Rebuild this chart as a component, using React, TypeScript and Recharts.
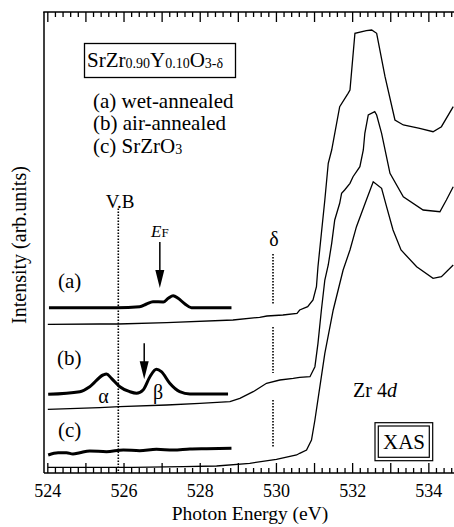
import { ComposedChart, Line, XAxis, YAxis, ReferenceLine, ReferenceDot } from 'recharts';

// Zr 4d XAS, thin lines = full spectra, thick lines = magnified pre-edge
const energyA = [524.0, 525.36, 525.84, 527.12, 528.86, 529.56, 529.75, 530.17, 530.54, 530.61, 530.82, 530.96, 531.05, 531.09, 531.18, 531.27, 531.36, 531.45, 531.66, 531.88, 531.93, 532.06, 532.36, 532.5, 532.63, 532.85, 533.11, 533.33, 533.76, 534.11, 534.33, 534.64];
const intensityA = [148.7, 149, 149, 150.3, 153, 155.7, 157, 158, 159.7, 163, 166.3, 173, 186.3, 206.3, 239.7, 273, 309.7, 323, 366.3, 379.7, 383, 439.7, 442.3, 443, 439.7, 396.3, 353, 348, 344.7, 341.3, 346.3, 366.3];

const energyB = [524.0, 525.36, 525.89, 527.12, 527.99, 528.78, 529.04, 529.39, 529.74, 530.09, 530.44, 530.61, 530.88, 531.01, 531.09, 531.18, 531.27, 531.36, 531.45, 531.53, 531.66, 531.71, 531.79, 531.93, 532.01, 532.19, 532.28, 532.32, 532.41, 532.58, 532.63, 532.76, 532.98, 533.33, 533.85, 534.29, 534.46, 534.64];
const intensityB = [63.7, 65.3, 66.3, 68, 69.7, 71.3, 74.7, 81.3, 89.7, 93, 94.7, 95.7, 96.3, 106.3, 129.7, 163, 193, 208, 229.7, 253, 269.7, 279.7, 283, 289.7, 296.3, 306.3, 323, 339.7, 358, 361.3, 358, 339.7, 299.7, 276.3, 263, 261.3, 273, 286.3];

const energyC = [524.0, 526.23, 527.55, 528.43, 529.3, 530.0, 530.53, 530.61, 530.79, 530.92, 531.01, 531.14, 531.27, 531.49, 531.75, 531.93, 532.1, 532.36, 532.54, 532.76, 532.89, 533.06, 533.27, 533.68, 534.11, 534.33, 534.64];
const intensityC = [5.7, 5.7, 6.3, 7, 9.7, 13.7, 18, 19.7, 23, 33, 53, 86.3, 119.7, 163, 203, 223, 246.3, 273, 291.3, 284.7, 266.3, 243, 223, 206.3, 194.7, 196.3, 208];

// magnified pre-edge region
const zoomEnergyA = [524.03, 525.81, 526.41, 526.59, 526.76, 527.03, 527.16, 527.29, 527.42, 527.6, 527.77, 528.82];
const zoomIntensityA = [165.3, 165.3, 166.3, 169, 171.3, 171, 174.7, 177.3, 174.7, 169, 165.3, 165.3];

const zoomEnergyB = [524.01, 524.84, 525.1, 525.45, 525.54, 525.67, 525.89, 526.15, 526.33, 526.5, 526.68, 526.85, 526.98, 527.2, 527.46, 527.73, 528.73];
const zoomIntensityB = [78.7, 81.3, 86.3, 98, 99, 94.7, 86.3, 81.3, 79.7, 83, 96.3, 103.7, 101.3, 89.7, 81.3, 79, 79];

const zoomEnergyC = [524.01, 524.27, 524.49, 524.66, 524.84, 525.1, 525.54, 525.98, 526.41, 526.85, 527.29, 527.73, 528.17, 528.82];
const zoomIntensityC = [18, 20.3, 20.3, 19, 20.3, 22, 21.3, 23, 22.3, 23.7, 23, 24, 24.3, 24.7];

const labelTicks = [524, 526, 528, 530, 532, 534];
const VB_ENERGY = 525.85;
const DELTA_ENERGY = 529.91;
const EF_ENERGY = 526.94;
const ARROW_B_ENERGY = 526.53;

const toRows = (xs: number[], ys: number[]) => xs.map((x, i) => ({ x, y: ys[i] }));

const minorTicks: number[] = [];
for (let i = 0; i <= 53; i++) minorTicks.push(Math.round((524 + i * 0.2) * 10) / 10);

const FONT = '"Liberation Serif", "Times New Roman", serif';
const X_DOMAIN: [number, number] = [523.9, 534.66];

// plot box in page pixels (matches chart margins below)
const PLOT_LEFT = 44;
const PLOT_RIGHT = 454;
const PLOT_TOP = 12;
const PLOT_BOTTOM = 473;
const xPx = (e: number) => PLOT_LEFT + ((e - X_DOMAIN[0]) * (PLOT_RIGHT - PLOT_LEFT)) / (X_DOMAIN[1] - X_DOMAIN[0]);

function isMajor(v: number) {
    return Math.abs(v - Math.round(v)) < 1e-6;
}

function BottomLabel(props: any) {
    const { x, y, payload } = props;
    const v = payload.value;
    if (!labelTicks.includes(v)) return <g />;
    return (
        <text x={x} y={y + 24} textAnchor="middle" fontSize={18} fill="#000" style={{ fontFamily: FONT }}>
            {v}
        </text>
    );
}

function arrowShape(length: number) {
    return (p: any) => {
        const { cx, cy } = p;
        return (
            <g>
                <line x1={cx} x2={cx} y1={cy - length} y2={cy - 14} stroke="#000" strokeWidth={1.5} />
                <polygon points={`${cx - 4.5},${cy - 18} ${cx + 4.5},${cy - 18} ${cx},${cy}`} fill="#000" />
            </g>
        );
    };
}

export default function App() {
    const thin = { stroke: '#000', strokeWidth: 1.3, dot: false, isAnimationActive: false, type: 'linear' as const };
    const thick = { stroke: '#000', strokeWidth: 3, dot: false, isAnimationActive: false, type: 'monotone' as const };
    const dotted = { stroke: '#000', strokeWidth: 1.6, strokeDasharray: '1.5 1.5' };
    const txt = { fill: '#000', style: { fontFamily: FONT } };

    return (
        <div style={{ position: 'absolute', left: 0, top: 0, width: 454, height: 527, background: '#fff' }}>
            <ComposedChart width={454} height={527} margin={{ top: PLOT_TOP, right: 0, left: 0, bottom: 0 }}>
                <XAxis
                    dataKey="x"
                    type="number"
                    domain={X_DOMAIN}
                    allowDataOverflow
                    ticks={labelTicks}
                    interval={0}
                    tick={(p: any) => <BottomLabel {...p} />}
                    tickLine={false}
                    tickSize={0}
                    tickMargin={0}
                    height={527 - PLOT_BOTTOM}
                    axisLine={{ stroke: '#000', strokeWidth: 1.5 }}
                />
                <YAxis
                    type="number"
                    domain={[0, PLOT_BOTTOM - PLOT_TOP]}
                    allowDataOverflow
                    tick={false}
                    tickLine={false}
                    width={PLOT_LEFT}
                    axisLine={{ stroke: '#000', strokeWidth: 1.5 }}
                />

                <ReferenceLine segment={[{ x: VB_ENERGY, y: 264.5 }, { x: VB_ENERGY, y: 0 }]} {...dotted} />
                <ReferenceLine segment={[{ x: DELTA_ENERGY, y: 219 }, { x: DELTA_ENERGY, y: 169 }]} {...dotted} />
                <ReferenceLine segment={[{ x: DELTA_ENERGY, y: 146 }, { x: DELTA_ENERGY, y: 100 }]} {...dotted} />
                <ReferenceLine segment={[{ x: DELTA_ENERGY, y: 73 }, { x: DELTA_ENERGY, y: 26 }]} {...dotted} />

                <Line data={toRows(energyA, intensityA)} dataKey="y" {...thin} />
                <Line data={toRows(energyB, intensityB)} dataKey="y" {...thin} />
                <Line data={toRows(energyC, intensityC)} dataKey="y" {...thin} />
                <Line data={toRows(zoomEnergyA, zoomIntensityA)} dataKey="y" {...thick} />
                <Line data={toRows(zoomEnergyB, zoomIntensityB)} dataKey="y" {...thick} />
                <Line data={toRows(zoomEnergyC, zoomIntensityC)} dataKey="y" {...thick} />

                <ReferenceDot x={EF_ENERGY} y={185} r={0} shape={arrowShape(46)} />
                <ReferenceDot x={ARROW_B_ENERGY} y={93.7} r={0} shape={arrowShape(36)} />
            </ComposedChart>

            <svg width={454} height={527} style={{ position: 'absolute', left: 0, top: 0, pointerEvents: 'none' }}>
                {/* top frame edge and inward ticks */}
                <rect x={PLOT_LEFT - 0.75} y={PLOT_TOP - 0.75} width={PLOT_RIGHT - PLOT_LEFT + 1} height={1.5} fill="#000" />
                {minorTicks.map((t) => {
                    const len = isMajor(t) ? 10 : 5;
                    const x = xPx(t) - 0.65;
                    return (
                        <g key={t}>
                            <rect x={x} y={PLOT_TOP} width={1.3} height={len} fill="#000" />
                            <rect x={x} y={PLOT_BOTTOM - len} width={1.3} height={len} fill="#000" />
                        </g>
                    );
                })}

                <rect x={84.5} y={43.5} width={151} height={34} fill="none" stroke="#000" strokeWidth={1.3} />
                <text x={87} y={67} fontSize={21} {...txt}>
                    SrZr<tspan fontSize={14} dy={1}>0.90</tspan>
                    <tspan dy={-1}>Y</tspan>
                    <tspan fontSize={14} dy={1}>0.10</tspan>
                    <tspan dy={-1}>O</tspan>
                    <tspan fontSize={14} dy={1}>3-δ</tspan>
                </text>

                <text x={93} y={108} fontSize={21} {...txt}>(a) wet-annealed</text>
                <text x={93} y={130} fontSize={21} {...txt}>(b) air-annealed</text>
                <text x={93} y={152.5} fontSize={21} {...txt}>
                    (c) SrZrO<tspan fontSize={14} dy={1}>3</tspan>
                </text>

                <text x={120} y={208} fontSize={19} textAnchor="middle" {...txt}>V.B</text>
                <text x={151} y={237} fontSize={17} fontStyle="italic" {...txt}>
                    E<tspan fontSize={13} fontStyle="normal">F</tspan>
                </text>
                <text x={274} y={246} fontSize={20} textAnchor="middle" {...txt}>δ</text>

                <text x={58} y={288} fontSize={21} {...txt}>(a)</text>
                <text x={57} y={365} fontSize={21} {...txt}>(b)</text>
                <text x={58} y={437} fontSize={21} {...txt}>(c)</text>
                <text x={103.5} y={403} fontSize={20} textAnchor="middle" {...txt}>α</text>
                <text x={158} y={399} fontSize={20} textAnchor="middle" {...txt}>β</text>

                <text x={353} y={397} fontSize={20} {...txt}>
                    Zr 4<tspan fontStyle="italic">d</tspan>
                </text>

                <rect x={375} y={422.7} width={57.7} height={38} fill="none" stroke="#000" strokeWidth={1.2} />
                <rect x={378.3} y={426} width={51} height={31.3} fill="none" stroke="#000" strokeWidth={1.2} />
                <text x={404} y={448.5} fontSize={21} textAnchor="middle" {...txt}>XAS</text>

                <text x={26} y={245} fontSize={20} textAnchor="middle" transform="rotate(-90 26 245)" {...txt}>
                    Intensity (arb.units)
                </text>
                <text x={250} y={520} fontSize={19.5} textAnchor="middle" {...txt}>Photon Energy (eV)</text>
            </svg>
        </div>
    );
}
